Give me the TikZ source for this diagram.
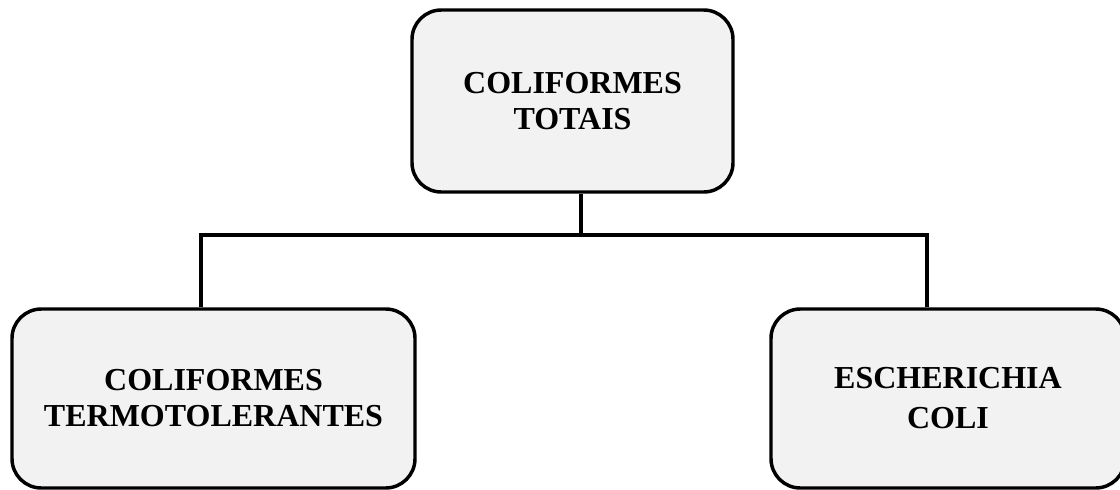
\documentclass[tikz,border=0pt]{standalone}
\usepackage{fontspec}
\setmainfont{Liberation Serif}
\begin{document}
\begin{tikzpicture}[x=0.75pt,y=-0.75pt,
  boxstyle/.style={draw=black, line width=2.6pt, fill=boxgray, rounded corners=22pt,
    align=center, inner sep=0pt, font=\fontsize{24}{27}\selectfont\bfseries},
  linkstyle/.style={draw=black, line width=2.4pt}]
\definecolor{boxgray}{HTML}{F2F2F2}
\useasboundingbox (0,0) rectangle (1120,489);
\clip (0,0) rectangle (1120,489);
\node[boxstyle, minimum width=321*0.75pt, minimum height=182*0.75pt] (top) at (572.5,101) {COLIFORMES\\TOTAIS};
\node[boxstyle, minimum width=403*0.75pt, minimum height=179*0.75pt] (left) at (213.5,398.5) {COLIFORMES\\TERMOTOLERANTES};
\node[boxstyle, minimum width=354*0.75pt, minimum height=179*0.75pt] (right) at (948,398.5) {ESCHERICHIA\\[3pt]COLI};
\coordinate (j) at (581,235);
\coordinate (jl) at (201,235);
\coordinate (jr) at (927,235);
\draw[linkstyle] (top.south -| j) -- (j);
\draw[linkstyle, line cap=rect] (jl) -- (jr);
\draw[linkstyle] (jl) -- (jl |- left.north);
\draw[linkstyle] (jr) -- (jr |- right.north);
\end{tikzpicture}
\end{document}
